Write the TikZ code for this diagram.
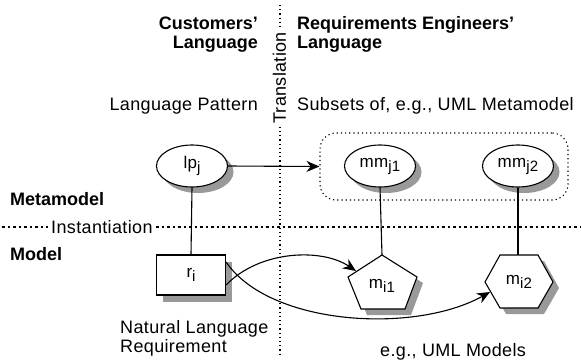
\documentclass[tikz,border=0pt]{standalone}
\usepackage{fontspec}
\setmainfont{Liberation Sans}
\newfontfamily\regf{Liberation Sans}[LetterSpace=2]
\usetikzlibrary{arrows.meta,shapes.geometric}
\newcommand{\mysub}[1]{\raisebox{-0.45ex}{\fontsize{15}{15}\selectfont #1}}
\begin{document}
\begin{tikzpicture}[x=1pt,y=-1pt,
  lbl/.style={font=\fontsize{18}{21}\selectfont\regf, inner sep=0pt},
  bld/.style={font=\fontsize{18}{21}\selectfont\bfseries, inner sep=0pt},
  ell/.style={ellipse, draw, line width=1.1pt, fill=white, minimum width=71pt, minimum height=42pt, inner sep=0pt, font=\fontsize{17}{17}\selectfont\regf},
  shd/.style={fill=black!40, draw=none},
  dotl/.style={line width=1.1pt, dash pattern=on 1.2pt off 3pt},
  dashl/.style={line width=1.1pt, dash pattern=on 2.5pt off 3pt},
  conn/.style={line width=1.1pt},
  arr/.style={line width=1.1pt, -{Stealth[length=13pt,width=11pt]}}
]
\useasboundingbox (0,0) rectangle (581,362);
\fill[white] (0,0) rectangle (581,362);

% separators
\coordinate (vtop) at (280,5);
\coordinate (vbot) at (280,357);
\draw[dotl] (vtop) -- (vbot);
\coordinate (hl) at (2,227);
\coordinate (hr) at (581,227);
\draw[dashl] (hl) -- (hr);
\node[lbl, fill=white, rotate=90, inner xsep=2pt, inner ysep=1pt] (trans) at (279.5,78) {Translation};
\node[lbl, fill=white, anchor=west, inner xsep=3pt, inner ysep=2pt] (inst) at (48,227) {Instantiation};

% headings
\node[bld, anchor=base east] (cust1) at (258,29) {Customers’};
\node[bld, anchor=base east] (cust2) at (258,48) {Language};
\node[bld, anchor=base west] (req1) at (297,29) {Requirements Engineers’};
\node[bld, anchor=base west] (req2) at (297,48) {Language};
\node[lbl, anchor=base east] (lpat) at (258,110) {Language Pattern};
\node[lbl, anchor=base west] (subs) at (297,110) {Subsets of, e.g., UML Metamodel};
\node[bld, anchor=base west] (meta) at (10,205) {Metamodel};
\node[bld, anchor=base west] (model) at (10,260) {Model};
\node[lbl, anchor=base west] (nl1) at (120,333) {Natural Language};
\node[lbl, anchor=base west] (nl2) at (120,352) {Requirement};
\node[lbl, anchor=base west] (uml) at (380,356) {e.g., UML Models};

% dotted group box
\node[draw, dotl, rounded corners=16pt, minimum width=248pt, minimum height=67pt] (grp) at (444,166.5) {};

% ellipses with shadows
\fill[shd] (198,172) ellipse [x radius=35.5pt, y radius=21pt];
\node[ell] (lp) at (192,166) {lp\mysub{j}};
\fill[shd] (386,172) ellipse [x radius=35.5pt, y radius=21pt];
\node[ell] (mm1) at (380,166) {mm\mysub{j1}};
\fill[shd] (524,172) ellipse [x radius=35.5pt, y radius=21pt];
\node[ell] (mm2) at (518,166) {mm\mysub{j2}};

% requirement box
\fill[shd] (163,262) rectangle (232,302);
\node[draw, line width=1.1pt, fill=white, minimum width=69pt, minimum height=40pt, inner sep=0pt, font=\fontsize{17}{17}\selectfont\regf] (ri) at (191,275) {r\mysub{i}};

% pentagon m_i1
\fill[shd] ([shift={(6,6)}]382,255) -- ([shift={(6,6)}]417,277) -- ([shift={(6,6)}]405,309) -- ([shift={(6,6)}]361,309) -- ([shift={(6,6)}]348,277) -- cycle;
\draw[line width=1.1pt, fill=white] (382,255) coordinate (p1top) -- (417,277) -- (405,309) -- (361,309) -- (348,277) coordinate (p1l) -- cycle;
\node[inner sep=0pt, font=\fontsize{17}{17}\selectfont\regf] (mi1) at (382,286) {m\mysub{i1}};
\coordinate (p1in) at (356,271);

% hexagon m_i2
\fill[shd] ([shift={(6,6)}]485,282) -- ([shift={(6,6)}]500,255) -- ([shift={(6,6)}]538,255) -- ([shift={(6,6)}]553,282) -- ([shift={(6,6)}]538,308) -- ([shift={(6,6)}]500,308) -- cycle;
\draw[line width=1.1pt, fill=white] (485,282) -- (500,255) -- (518,255) coordinate (h2top) -- (538,255) -- (553,282) -- (538,308) -- (500,308) -- cycle;
\node[inner sep=0pt, font=\fontsize{17}{17}\selectfont\regf] (mi2) at (519,282) {m\mysub{i2}};
\coordinate (h2in) at (490,292);

% connectors
\draw[arr] (lp.east) -- (grp.west);
\draw[conn] (lp.south) -- (ri.north);
\draw[conn] (mm1.south) -- (p1top);
\draw[conn] (mm2.south) -- (h2top);
\draw[arr] ([yshift=-10pt]ri.east) .. controls (260,250) and (322,248) .. (p1in);
\draw[arr] ([yshift=13pt]ri.east) .. controls (270,326) and (415,334) .. (h2in);
\end{tikzpicture}
\end{document}
